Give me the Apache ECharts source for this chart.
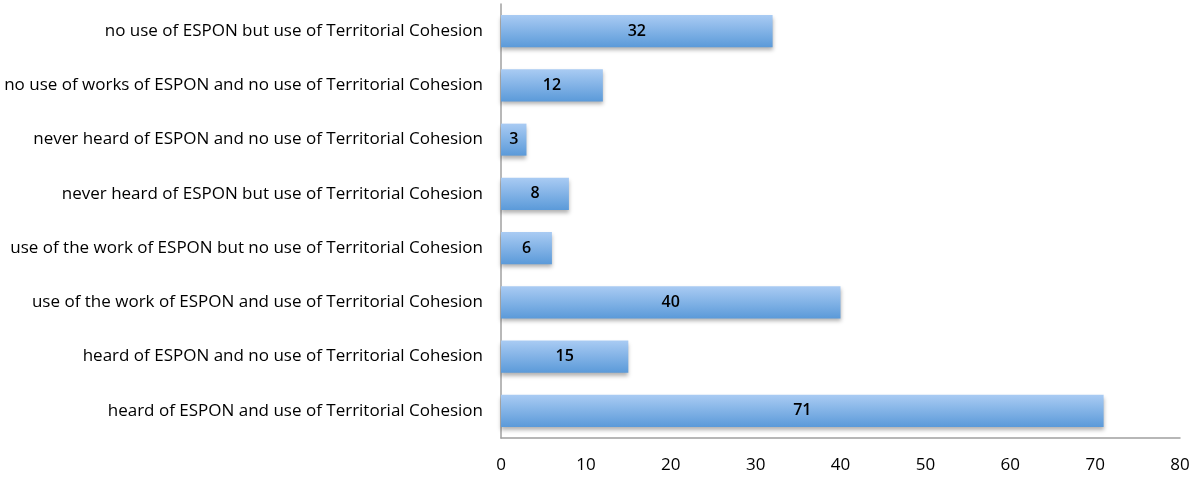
<!DOCTYPE html>
<html><head><meta charset="utf-8">
<script src="https://cdn.jsdelivr.net/npm/echarts@6/dist/echarts.min.js"></script>
<style>html,body{margin:0;padding:0;background:#fff}#c{width:1194px;height:478px}</style>
</head><body><div id="c"></div>
<script>
const categories = [
  "heard of ESPON and use of Territorial Cohesion",
  "heard of ESPON and no use of Territorial Cohesion",
  "use of the work of ESPON and use of Territorial Cohesion",
  "use of the work of ESPON but no use of Territorial Cohesion",
  "never heard of ESPON but use of Territorial Cohesion",
  "never heard of ESPON and no use of Territorial Cohesion",
  "no use of works of ESPON and no use of Territorial Cohesion",
  "no use of ESPON but use of Territorial Cohesion"
];
const values = [71, 15, 40, 6, 8, 3, 12, 32];
const xTicks = [0, 10, 20, 30, 40, 50, 60, 70, 80];

const chart = echarts.init(document.getElementById('c'), null, {renderer: 'canvas'});
chart.setOption({
  animation: false,
  grid: {left: 501, right: 14, top: 4, bottom: 40, containLabel: false},
  xAxis: {
    type: 'value', min: xTicks[0], max: xTicks[xTicks.length - 1], interval: 10,
    splitLine: {show: false},
    axisLine: {show: true, lineStyle: {color: '#a0a0a0', width: 1.5}},
    axisTick: {show: false},
    axisLabel: {color: '#000', fontFamily: 'Open Sans', fontSize: 17, margin: 19}
  },
  yAxis: {
    type: 'category', data: categories,
    axisLine: {show: true, lineStyle: {color: '#a0a0a0', width: 1.5}},
    axisTick: {show: false},
    axisLabel: {color: '#000', fontFamily: 'Open Sans', fontSize: 17, margin: 18}
  },
  series: [{
    type: 'bar', data: values, barCategoryGap: '41%',
    itemStyle: {
      color: new echarts.graphic.LinearGradient(0, 0, 0, 1, [
        {offset: 0, color: '#a9cbf3'},
        {offset: 1, color: '#5b9ad9'}
      ]),
      shadowColor: 'rgba(0,0,0,0.3)', shadowBlur: 4, shadowOffsetY: 3
    },
    label: {show: true, position: 'inside', color: '#000', fontFamily: 'Open Sans', fontSize: 16, fontWeight: 600}
  }]
});
</script></body></html>
